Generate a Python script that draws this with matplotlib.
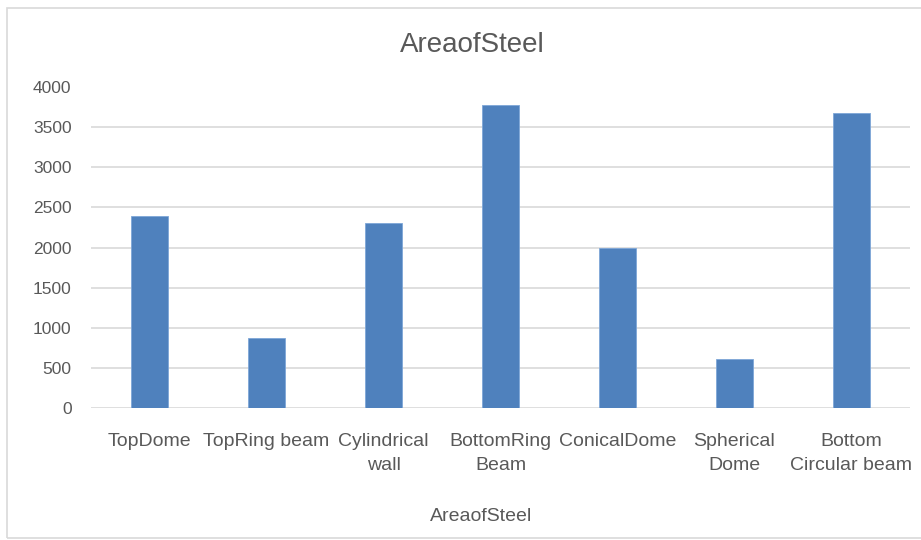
import matplotlib.pyplot as plt
from matplotlib.patches import Rectangle

# Datos del gráfico
categories = ['TopDome', 'TopRing beam', 'Cylindrical\nwall', 'BottomRing\nBeam',
              'ConicalDome', 'Spherical\nDome', 'Bottom\nCircular beam']
steel_area = [2390, 870, 2310, 3770, 2000, 610, 3680]
y_ticks = [0, 500, 1000, 1500, 2000, 2500, 3000, 3500, 4000]

plt.rcParams['font.family'] = ['Liberation Sans', 'DejaVu Sans']
text_color = '#595959'
grid_color = '#d9d9d9'

fig = plt.figure(figsize=(9.21, 5.40), dpi=100)
ax = fig.add_axes([0.0988, 0.2444, 0.8892, 0.5945])

# Marco del gráfico
fig.patches.append(Rectangle((0.008, 0.004), 1.2, 0.981, transform=fig.transFigure,
                             fill=False, edgecolor=grid_color, linewidth=1.2))

for t in y_ticks[:-1]:
    ax.axhline(t, color=grid_color, linewidth=1.2, zorder=0)

x = range(len(categories))
ax.bar(x, steel_area, width=0.31, color='#4f81bd', edgecolor='#7ea6d8',
       linewidth=0.6, zorder=2)

ax.set_xlim(-0.5, len(categories) - 0.5)
ax.set_ylim(0, 4000)
ax.set_yticks(y_ticks)
ax.set_yticklabels([str(t) for t in y_ticks], color=text_color, fontsize=12.5)
ax.set_xticks(list(x))
ax.set_xticklabels(categories, color=text_color, fontsize=14, linespacing=1.55)
ax.tick_params(axis='both', length=0)
ax.tick_params(axis='x', pad=18)
ax.tick_params(axis='y', pad=14)
for s in ax.spines.values():
    s.set_visible(False)

fig.text(0.513, 0.917, 'AreaofSteel', ha='center', va='center', fontsize=20, color=text_color)
fig.text(0.522, 0.043, 'AreaofSteel', ha='center', va='center', fontsize=14, color=text_color)

fig.savefig('out.png', dpi=100)
